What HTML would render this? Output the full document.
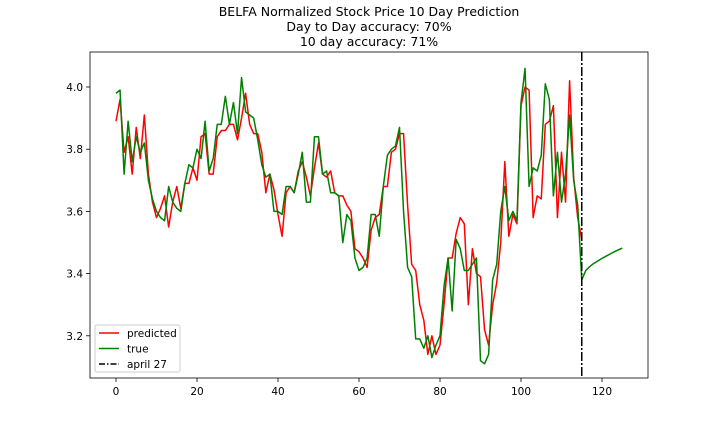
<!DOCTYPE html>
<html><head><meta charset="utf-8"><style>
body{margin:0;background:#fff;font-family:"Liberation Sans","DejaVu Sans",sans-serif}
svg text{font-family:"DejaVu Sans","Liberation Sans",sans-serif}
</style></head><body>
<svg id="c" width="720" height="432" viewBox="0 0 720 432">
<g font-size="12.5" text-anchor="middle" fill="#000">
<text x="369" y="16">BELFA Normalized Stock Price 10 Day Prediction</text>
<text x="369" y="31">Day to Day accuracy: 70%</text>
<text x="369" y="46">10 day accuracy: 71%</text>
</g>
<g id="plot"></g>
</svg>
<script>
const predicted=[3.89,3.96,3.79,3.84,3.72,3.87,3.77,3.91,3.72,3.63,3.58,3.61,3.65,3.55,3.63,3.68,3.61,3.69,3.69,3.74,3.70,3.84,3.85,3.72,3.72,3.84,3.86,3.86,3.88,3.88,3.83,3.90,3.98,3.88,3.85,3.85,3.79,3.66,3.72,3.67,3.59,3.52,3.66,3.68,3.66,3.73,3.76,3.71,3.65,3.74,3.82,3.72,3.71,3.73,3.66,3.65,3.65,3.62,3.60,3.48,3.47,3.45,3.42,3.54,3.58,3.59,3.68,3.68,3.79,3.80,3.85,3.85,3.62,3.43,3.41,3.30,3.25,3.14,3.20,3.14,3.17,3.30,3.45,3.45,3.53,3.58,3.56,3.30,3.48,3.40,3.39,3.22,3.17,3.30,3.37,3.50,3.76,3.52,3.59,3.56,3.94,4.00,3.99,3.58,3.65,3.64,3.88,3.89,3.94,3.58,3.79,3.63,4.02,3.71,3.58,3.51];
const trueVals=[3.98,3.99,3.72,3.89,3.76,3.84,3.79,3.82,3.70,3.64,3.60,3.58,3.57,3.68,3.63,3.61,3.60,3.69,3.75,3.74,3.80,3.77,3.89,3.73,3.77,3.88,3.88,3.97,3.88,3.95,3.85,4.03,3.92,3.91,3.90,3.83,3.75,3.71,3.72,3.60,3.60,3.59,3.68,3.68,3.66,3.72,3.79,3.63,3.63,3.84,3.84,3.72,3.73,3.66,3.66,3.65,3.50,3.59,3.57,3.45,3.41,3.42,3.45,3.59,3.59,3.52,3.68,3.78,3.80,3.81,3.87,3.60,3.42,3.39,3.19,3.19,3.16,3.20,3.13,3.17,3.20,3.36,3.45,3.28,3.51,3.48,3.41,3.41,3.43,3.45,3.12,3.11,3.14,3.38,3.43,3.60,3.68,3.57,3.60,3.57,3.95,4.06,3.68,3.74,3.73,3.78,4.01,3.96,3.65,3.79,3.63,3.72,3.91,3.70,3.62,3.38];
const futureVals=[3.38,3.41,3.423,3.433,3.441,3.449,3.456,3.463,3.47,3.476,3.482];
const futureStart=115;
const splitDay=115;
const xTicks=[0,20,40,60,80,100,120];
const yTicks=[3.2,3.4,3.6,3.8,4.0];
const L=90,R=648,T=52,B=378;
const X=v=>116+(v-0)*4.05;
const Y=v=>87+(4.0-v)*311;
const ns="http://www.w3.org/2000/svg";
const g=document.getElementById('plot');
function mk(t,a,p){const e=document.createElementNS(ns,t);for(const k in a)e.setAttribute(k,a[k]);(p||g).appendChild(e);return e;}
function line(vals,off,color,name){
  const pts=vals.map((v,i)=>X(i+off).toFixed(2)+','+Y(v).toFixed(2)).join(' ');
  const e=mk('polyline',{points:pts,fill:'none',stroke:color,'stroke-width':1.5,'stroke-linejoin':'round'});
  
  
}
xTicks.forEach(t=>{
  const e=mk('line',{x1:X(t),x2:X(t),y1:B,y2:B+4,stroke:'#000','stroke-width':0.8});
  
  
  const tx=mk('text',{x:X(t),y:B+17,'font-size':10.5,'text-anchor':'middle',fill:'#000'});tx.textContent=t;
  
  
});
yTicks.forEach(t=>{
  const e=mk('line',{x1:L-4,x2:L,y1:Y(t),y2:Y(t),stroke:'#000','stroke-width':0.8});
  
  
  const tx=mk('text',{x:L-7,y:Y(t)+4,'font-size':10.5,'text-anchor':'end',fill:'#000'});tx.textContent=t.toFixed(1);
  
  
});
line(predicted,0,'#ff0000','predicted-line');
line(trueVals,0,'#008000','true-line');
line(futureVals,futureStart,'#008000','true-forecast-line');
const v=mk('line',{x1:X(splitDay),x2:X(splitDay),y1:T,y2:B,stroke:'#000','stroke-width':1.5,'stroke-dasharray':'9,2,2,2'});


const fr=mk('rect',{x:L,y:T,width:R-L,height:B-T,fill:'none',stroke:'#000','stroke-width':0.8});


const lg=mk('g',{});


mk('rect',{x:95,y:325,width:85,height:47,rx:2,fill:'#fff',stroke:'#ccc','stroke-width':1},lg);
[['predicted','#ff0000',''],['true','#008000',''],['april 27','#000','6,2,1.5,2']].forEach((d,i)=>{
  const y=333+i*15.5;
  const ln=mk('line',{x1:99,x2:119,y1:y,y2:y,stroke:d[1],'stroke-width':1.5,'stroke-dasharray':d[2]},lg);
  
  
  const tx=mk('text',{x:127,y:y+4,'font-size':10.5,fill:'#000'},lg);tx.textContent=d[0];
  
  
});
</script>
</body></html>
